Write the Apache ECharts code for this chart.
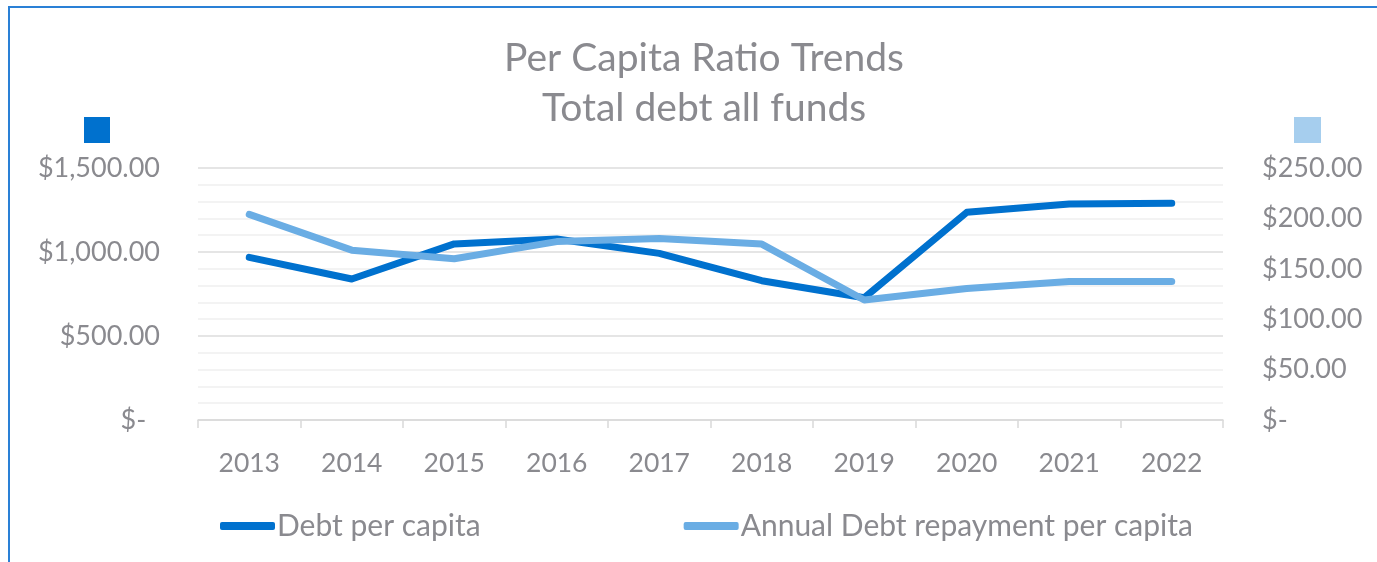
<!DOCTYPE html>
<html><head><meta charset="utf-8">
<script src="https://cdn.jsdelivr.net/npm/echarts@6/dist/echarts.min.js"></script>
<style>
html,body{margin:0;padding:0;background:#fff;overflow:hidden}
#c{width:1377px;height:562px;position:absolute;left:0;top:0}
#frame{position:absolute;left:8px;top:6px;width:1400px;height:600px;border-left:2px solid #2a80d6;border-top:2px solid #2a80d6;pointer-events:none}
</style></head>
<body><div id="c"></div><div id="frame"></div>
<script>
var years = ['2013','2014','2015','2016','2017','2018','2019','2020','2021','2022'];
var debtPerCapita = [968, 839, 1048, 1077, 992, 829, 728, 1236, 1286, 1290];
var repaymentPerCapita = [204, 168.5, 160, 177, 180, 174.5, 119, 130.5, 137.5, 137.5];
var seriesNames = ['Debt per capita', 'Annual Debt repayment per capita'];
var titleLines = ['Per Capita Ratio Trends', 'Total debt all funds'];

var darkBlue = '#0071CE', lightBlue = '#6AADE4';
var gray = '#8a8a8f';
var fontFam = 'Lato, "Open Sans", sans-serif';
function money(v){
  if (v === 0) return '$-';
  return '$' + v.toLocaleString('en-US',{minimumFractionDigits:2, maximumFractionDigits:2});
}
var chart = echarts.init(document.getElementById('c'));
chart.setOption({
  animation:false,
  title:{text:titleLines.join('\n'), left:699, textAlign:'center', top:28,
    textStyle:{color:gray, fontFamily:fontFam, fontWeight:'normal', fontSize:39, lineHeight:50}},
  legend:{left:215, top:506, itemWidth:55, itemHeight:8, itemGap:203, icon:'roundRect',
    textStyle:{color:gray, fontFamily:fontFam, fontSize:30, padding:[0,0,0,-3]},
    data:seriesNames},
  grid:{left:198, right:154, top:168, bottom:142},
  xAxis:{type:'category', data:years, boundaryGap:true,
    axisLine:{lineStyle:{color:'#d9d9d9', width:1.5}},
    axisTick:{show:true, length:8, lineStyle:{color:'#d9d9d9', width:1.5}},
    axisLabel:{color:gray, fontFamily:fontFam, fontSize:26.5, margin:30}},
  yAxis:[
    {type:'value', min:0, max:1500, interval:500, position:'left',
     axisLine:{show:false}, axisTick:{show:false},
     axisLabel:{color:gray, fontFamily:fontFam, fontSize:27, margin:38,
       formatter:function(v){return v===0 ? '$-  ' : money(v);}},
     splitLine:{lineStyle:{color:'#dcdcdc', width:1.5}},
     minorTick:{show:false, splitNumber:5},
     minorSplitLine:{show:true, lineStyle:{color:'#f0f0f0', width:1.5}}},
    {type:'value', min:0, max:250, interval:50, position:'right',
     axisLine:{show:false}, axisTick:{show:false}, splitLine:{show:false},
     axisLabel:{color:gray, fontFamily:fontFam, fontSize:27, margin:39, formatter:money}}
  ],
  graphic:[
    {type:'rect', shape:{x:84,y:117,width:26,height:26}, style:{fill:darkBlue}},
    {type:'rect', shape:{x:1294,y:117,width:27,height:26}, style:{fill:'#A6CEEE'}}
  ],
  series:[
    {name:seriesNames[0], type:'line', yAxisIndex:0, data:debtPerCapita, symbol:'none',
     lineStyle:{color:darkBlue, width:7, cap:'round', join:'round'}, itemStyle:{color:darkBlue}, z:2},
    {name:seriesNames[1], type:'line', yAxisIndex:1, data:repaymentPerCapita, symbol:'none',
     lineStyle:{color:lightBlue, width:7, cap:'round', join:'round'}, itemStyle:{color:lightBlue}, z:3}
  ]
});
</script></body></html>
